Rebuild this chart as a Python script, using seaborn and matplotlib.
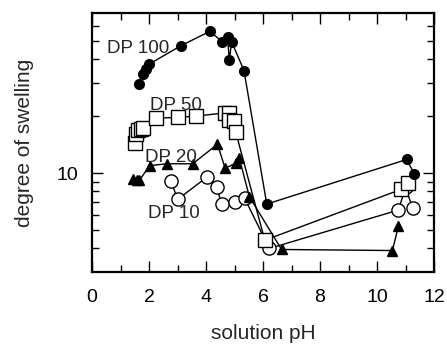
import matplotlib
matplotlib.use("Agg")
import matplotlib.pyplot as plt
import matplotlib.ticker as mticker
import seaborn as sns
import pandas as pd

sns.set_style("ticks")
plt.rcParams["font.family"] = ["Liberation Sans", "DejaVu Sans"]
plt.rcParams["font.size"] = 14

# values (pH, degree of swelling)
dp100_ph = [1.64, 1.77, 1.90, 2.00, 3.11, 4.14, 4.57, 4.76, 4.81, 4.90, 5.33, 6.13, 11.04, 11.31]
dp100_sw = [29.7, 33.5, 35.6, 37.6, 47.0, 56.1, 49.3, 52.4, 39.4, 49.3, 34.8, 6.86, 11.8, 9.9]

dp50_ph = [1.52, 1.53, 1.60, 1.70, 1.80, 2.25, 3.03, 3.65, 4.67, 4.82, 4.80, 4.97, 5.04, 6.06, 10.84, 11.08]
dp50_sw = [14.5, 16.0, 16.8, 17.1, 17.3, 19.5, 19.7, 20.0, 20.8, 20.8, 19.0, 18.9, 16.5, 4.42, 8.2, 8.9]

dp20_ph = [1.45, 1.57, 1.66, 2.02, 2.62, 3.53, 4.40, 4.67, 5.05, 5.17, 5.52, 6.65, 10.54, 10.75]
dp20_sw = [9.3, 9.25, 9.15, 10.95, 11.2, 11.2, 14.2, 10.6, 11.3, 11.95, 7.5, 3.95, 3.9, 5.25]

dp10_ph = [2.77, 3.00, 4.02, 4.37, 4.55, 5.02, 5.35, 6.22, 10.75, 11.00, 11.25]
dp10_sw = [9.1, 7.26, 9.5, 8.4, 6.86, 7.06, 7.38, 4.0, 6.38, 8.4, 6.52]

series = [
    ("DP 10", dp10_ph, dp10_sw, "o", "white", 9.5, (1.96, 5.79)),
    ("DP 20", dp20_ph, dp20_sw, "^", "black", 7, (1.86, 11.4)),
    ("DP 50", dp50_ph, dp50_sw, "s", "white", 10, (2.03, 21.5)),
    ("DP 100", dp100_ph, dp100_sw, "o", "black", 7, (0.53, 43.0)),
]

fig, ax = plt.subplots(figsize=(4.47, 3.44), dpi=100)
fig.subplots_adjust(left=0.206, right=0.971, top=0.962, bottom=0.209)

for i, (name, ph, sw, mk, fc, ms, pos) in enumerate(series):
    df = pd.DataFrame({"pH": ph, "sw": sw})
    sns.lineplot(data=df, x="pH", y="sw", ax=ax, sort=False, estimator=None,
                 color="black", linewidth=1.0, marker=mk, markersize=ms,
                 markerfacecolor=fc, markeredgecolor="black", markeredgewidth=1.0,
                 zorder=2 + i)
    ax.text(pos[0], pos[1], name, ha="left", va="baseline", fontsize=13.5, zorder=10)

ax.set_yscale("log")
ax.set_xlim(0, 12)
ax.set_ylim(3, 70)
ax.xaxis.set_major_locator(mticker.MultipleLocator(2))
ax.xaxis.set_minor_locator(mticker.MultipleLocator(1))
ax.yaxis.set_major_locator(mticker.FixedLocator([10]))
ax.yaxis.set_major_formatter(mticker.FixedFormatter(["10"]))
ax.yaxis.set_minor_locator(mticker.FixedLocator([4, 5, 6, 7, 8, 9, 20, 30, 40, 50, 60]))
ax.yaxis.set_minor_formatter(mticker.NullFormatter())

ax.tick_params(which="both", direction="in", top=True, right=True, width=1.0, colors="black")
ax.tick_params(which="major", length=8)
ax.tick_params(which="minor", length=5)
ax.tick_params(axis="x", which="major", pad=12, labelsize=14)
ax.tick_params(axis="y", which="major", pad=10, labelsize=14)
for s in ax.spines.values():
    s.set_linewidth(1.6)
    s.set_color("black")

ax.set_xlabel("solution pH", fontsize=15, labelpad=13)
ax.set_ylabel("degree of swelling", fontsize=15, labelpad=16)

fig.savefig("out.png", dpi=100)
